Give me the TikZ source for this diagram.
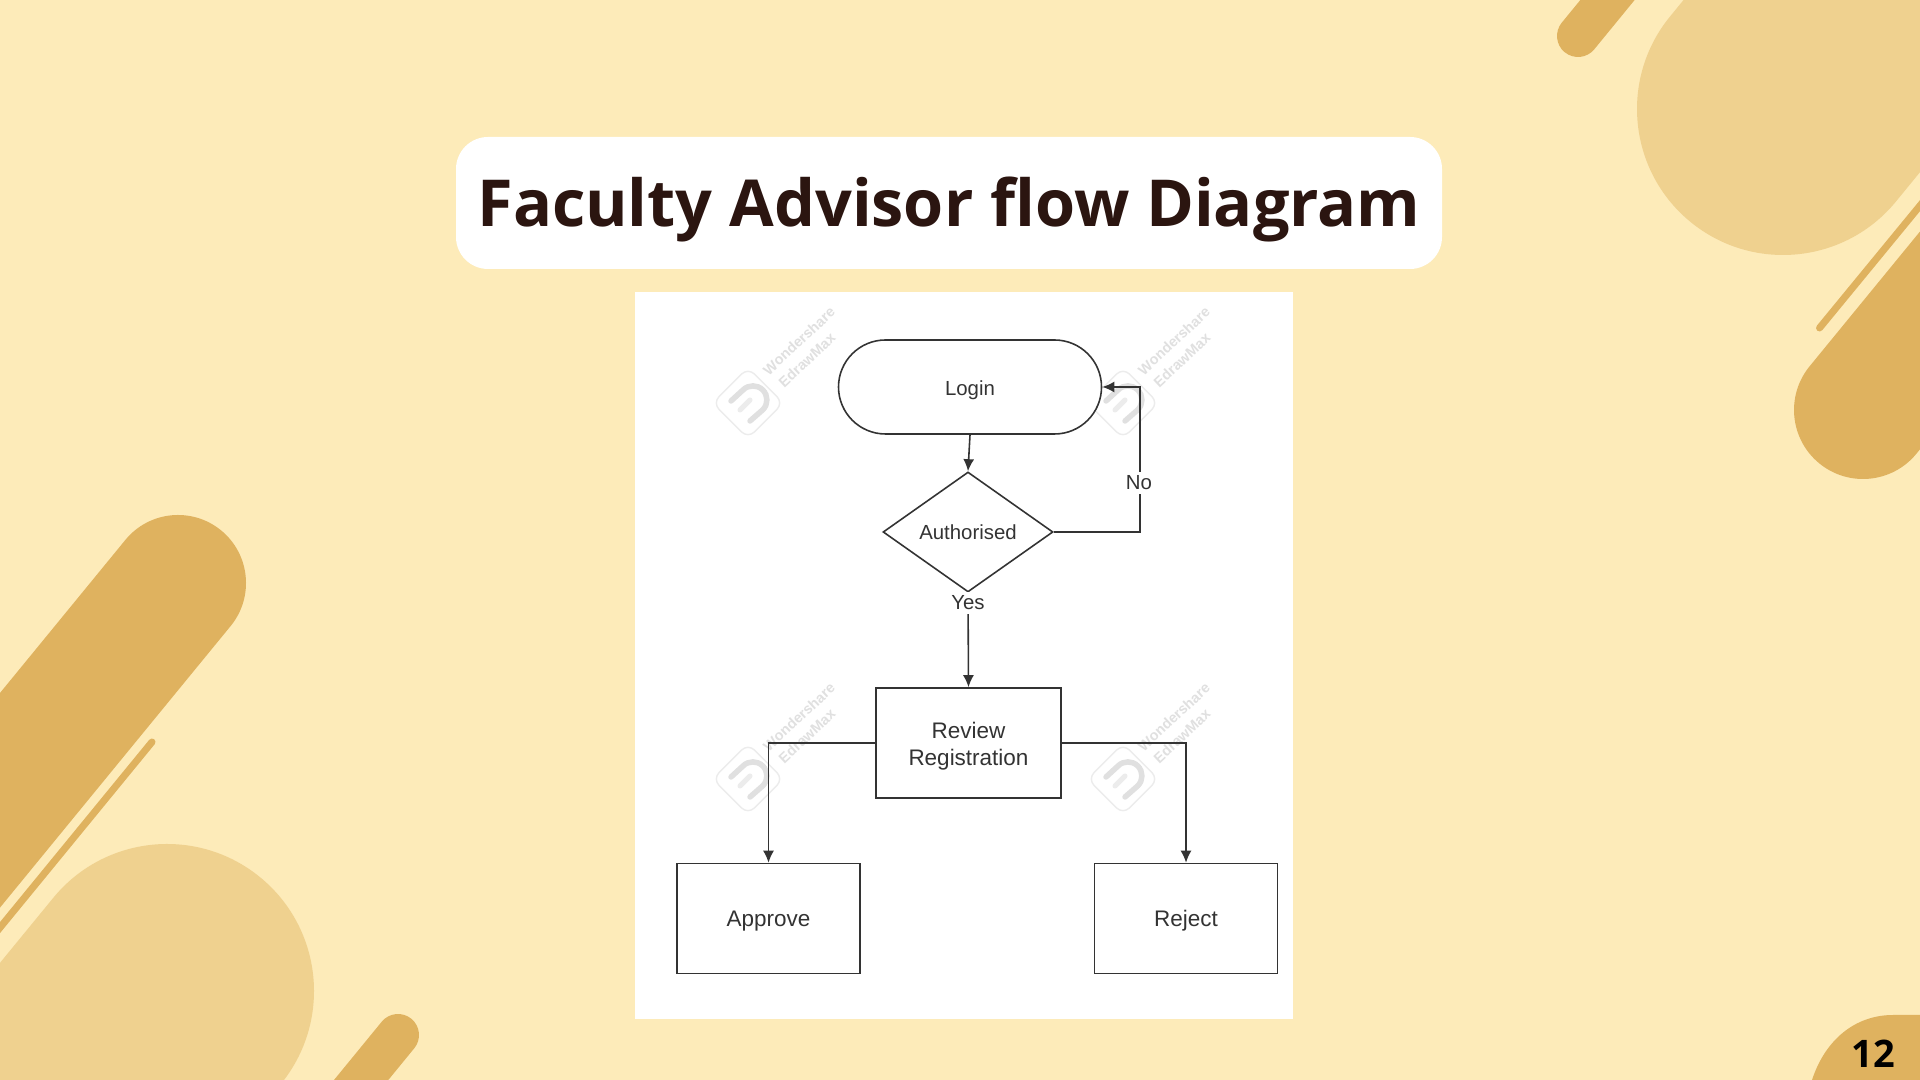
\documentclass[tikz,border=0pt]{standalone}
\usepackage{fontspec}
\setmainfont{Liberation Sans}
\newfontfamily\titlefont{Open Sans}
\usetikzlibrary{positioning,arrows.meta,shapes.geometric,shapes.misc}

\definecolor{pagebg}{HTML}{FDEBB9}
\definecolor{darksand}{HTML}{DFB25F}
\definecolor{lightsand}{HTML}{EFD18F}
\definecolor{titleink}{HTML}{2B1510}
\definecolor{flowink}{HTML}{333333}
\definecolor{markline}{HTML}{ECECEC}
\definecolor{markfill}{HTML}{E0E0E0}

\tikzset{
  wmark/.pic={
    \node[draw=markline,line width=0.4pt,rounded corners=0.09cm,rotate=45,minimum size=0.5cm,inner sep=0pt] (-box) at (0,0) {};
    \draw[markfill,line width=0.055cm,line cap=round] (-0.17,0.02) -- (-0.05,0.13) arc[start angle=135,end angle=-45,radius=0.14] -- (0.02,-0.18);
    \draw[markline,line width=0.05cm,line cap=round] (-0.08,-0.07) -- (0.02,0.03);
    \node[rotate=43,text=markfill,font=\fontsize{4.1}{5}\selectfont\bfseries,inner sep=0pt] (-top) at (0.51,0.62) {Wondershare};
    \node[rotate=43,text=markfill,font=\fontsize{4.1}{5}\selectfont\bfseries,inner sep=0pt] (-bot) at (0.59,0.43) {EdrawMax};
  }
}

\begin{document}
\begin{tikzpicture}[
    >={Latex[length=1.2mm,width=1.1mm]},
    flownode/.style={draw=flowink,line width=0.45pt,fill=white,text=flowink,inner sep=0pt,align=center},
    bigtext/.style={font=\fontsize{6.4}{7.7}\selectfont},
    smalltext/.style={font=\fontsize{5.8}{7}\selectfont},
    boxnode/.style={flownode,rectangle,bigtext,minimum height=1.1cm},
    flow/.style={->,draw=flowink,line width=0.45pt},
    lbl/.style={fill=white,text=flowink,smalltext,inner sep=1pt},
    shapeline/.style={line cap=round},
  ]
  \useasboundingbox (0,0) rectangle (19.2,10.8);
  \clip (0,0) rectangle (19.2,10.8);
  \fill[pagebg] (0,0) rectangle (19.2,10.8);

  % Corner shapes, top right
  \draw[shapeline,lightsand,line width=2.92cm] (17.83,9.71) -- (19.73,12.03);
  \draw[shapeline,darksand,line width=1.38cm] (18.63,6.70) -- (20.53,9.02);
  \draw[shapeline,darksand,line width=0.07cm] (18.195,7.52) -- (19.78,9.45);
  \draw[shapeline,darksand,line width=0.42cm] (15.78,10.44) -- (16.73,11.60);

  % Corner shapes, bottom left
  \draw[shapeline,darksand,line width=1.36cm] (1.78,4.97) -- (-1.39,1.10);
  \draw[shapeline,darksand,line width=0.07cm] (1.52,3.38) -- (-0.38,1.06);
  \draw[shapeline,lightsand,line width=2.94cm] (1.67,0.89) -- (0.40,-0.66);
  \draw[shapeline,darksand,line width=0.42cm] (3.98,0.45) -- (3.03,-0.71);

  % Page number
  \fill[darksand] (18.12,0) .. controls (18.25,0.40) and (18.55,0.65) .. (18.93,0.65) -- (19.2,0.65) -- (19.2,0) -- cycle;
  \node[font=\titlefont\fontsize{10.8}{13}\selectfont\bfseries,text=black,inner sep=0pt] (pagenum) at (18.73,0.26) {12};

  % Title
  \node[fill=white,rounded corners=0.32cm,minimum width=9.86cm,minimum height=1.32cm,inner sep=0pt] (titlebox) at (9.49,8.77) {};
  \node[font=\titlefont\fontsize{18.43}{22}\selectfont\bfseries,text=titleink,inner sep=0pt,anchor=base] (title) at (9.49,8.53) {Faculty Advisor flow Diagram};

  % Panel and watermarks
  \fill[white] (6.35,0.61) rectangle (12.93,7.88);
  \foreach \i/\wx/\wy in {1/7.48/6.77,2/11.23/6.77,3/7.48/3.01,4/11.23/3.01}
    \pic (mark\i) at (\wx,\wy) {wmark};

  % Flow nodes
  \node[flownode,rounded rectangle,smalltext,text height=5.8pt,text depth=1.2pt,minimum width=2.63cm,minimum height=0.94cm] (login) at (9.70,6.93) {Login};
  \node[flownode,diamond,aspect=1.44,smalltext,text height=5.2pt,text depth=1.2pt,minimum width=1.70cm,minimum height=1.20cm] (auth) at (9.68,5.48) {Authorised};
  \node[boxnode,minimum width=1.85cm] (review) at (9.685,3.37) {\rule{0pt}{6.2pt}Review\\Registration};
  \node[boxnode,text height=6pt,text depth=1.2pt,minimum width=1.83cm] (approve) at (7.685,1.615) {Approve};
  \node[boxnode,text height=6pt,text depth=1.2pt,minimum width=1.83cm] (reject) at (11.86,1.615) {Reject};
  \coordinate (loopc) at (11.40,6.93);

  % Connectors
  \draw[flow] (login.south) -- (auth.north);
  \draw[flow] (auth.east) -| (loopc) -- (login.east);
  \draw[flow] (auth.south) -- (review.north);
  \draw[flow] (review.west) -| (approve.north);
  \draw[flow] (review.east) -| (reject.north);

  % Connector labels
  \node[lbl] (nolbl) at (11.39,5.97) {No};
  \node[lbl] (yeslbl) at (9.68,4.77) {Yes};
\end{tikzpicture}
\end{document}
